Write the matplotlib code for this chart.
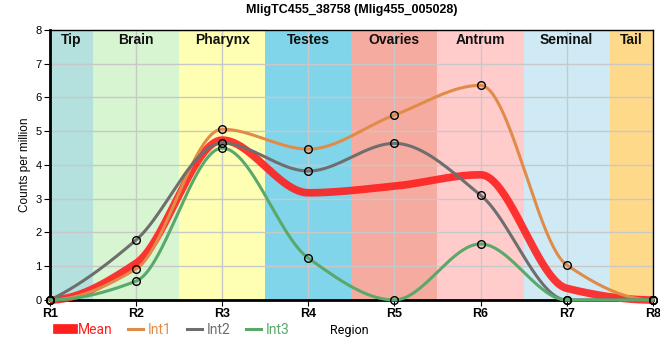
import matplotlib
matplotlib.use('Agg')

import numpy as np
import matplotlib.pyplot as plt
from matplotlib.lines import Line2D

# data
positions = ['R1', 'R2', 'R3', 'R4', 'R5', 'R6', 'R7', 'R8']
int1 = [0.0, 0.92, 5.06, 4.47, 5.48, 6.36, 1.04, 0.0]
int2 = [0.0, 1.78, 4.65, 3.82, 4.64, 3.11, 0.0, 0.0]
int3 = [0.0, 0.56, 4.50, 1.24, 0.0, 1.66, 0.0, 0.0]

regions = ['Tip', 'Brain', 'Pharynx', 'Testes', 'Ovaries', 'Antrum', 'Seminal', 'Tail']
region_edges = [0, 0.5, 1.5, 2.5, 3.5, 4.5, 5.5, 6.5, 7]
region_colors = ['#b4e1dd', '#d7f5d0', '#ffffb4', '#80d5eb',
                 '#f5ab9f', '#ffcbcb', '#cfeaf5', '#fed98a']

series_colors = {'Mean': '#ff1f1f', 'Int1': '#e08c48', 'Int2': '#6e6e6e', 'Int3': '#5aa86a'}


def pchip(x, y, xs):
    """ monotone cubic through the points, only for drawing """
    x = np.asarray(x, float)
    y = np.asarray(y, float)
    h = np.diff(x)
    d = np.diff(y) / h
    n = len(x)
    m = np.zeros(n)
    for k in range(1, n - 1):
        if d[k - 1] * d[k] > 0:
            w1 = 2 * h[k] + h[k - 1]
            w2 = h[k] + 2 * h[k - 1]
            m[k] = (w1 + w2) / (w1 / d[k - 1] + w2 / d[k])
    for k, (a, b, hh0, hh1) in ((0, (d[0], d[1], h[0], h[1])), (n - 1, (d[-1], d[-2], h[-1], h[-2]))):
        v = ((2 * hh0 + hh1) * a - hh0 * b) / (hh0 + hh1)
        if np.sign(v) != np.sign(a):
            v = 0.0
        elif np.sign(a) != np.sign(b) and abs(v) > abs(3 * a):
            v = 3 * a
        m[k] = v
    idx = np.clip(np.searchsorted(x, xs) - 1, 0, n - 2)
    t = (xs - x[idx]) / h[idx]
    h00 = 2 * t**3 - 3 * t**2 + 1
    h10 = t**3 - 2 * t**2 + t
    h01 = -2 * t**3 + 3 * t**2
    h11 = t**3 - t**2
    return h00 * y[idx] + h10 * h[idx] * m[idx] + h01 * y[idx + 1] + h11 * h[idx] * m[idx + 1]


def main():
    xpos = np.arange(len(positions))
    mean = np.mean([int1, int2, int3], axis=0)
    xs = np.linspace(0, len(positions) - 1, 700)

    fig = plt.figure(figsize=(6.6, 3.6), dpi=100)
    ax = fig.add_axes([0.0758, 0.1667, 0.9132, 0.75])

    for i, name in enumerate(regions):
        ax.axvspan(region_edges[i], region_edges[i + 1], color=region_colors[i], lw=0, zorder=0.1)
        ax.text((region_edges[i] + region_edges[i + 1]) / 2, 7.92, name, ha='center', va='top',
                fontsize=10, fontweight='bold', family='Liberation Sans', color='#111111', zorder=5)

    ax.grid(True, color='#c8c8c8', lw=1)
    ax.set_axisbelow(True)

    ax.plot(xs, pchip(xpos, mean, xs), color=series_colors['Mean'], lw=5.5, alpha=0.9,
            solid_capstyle='butt', zorder=3, clip_on=False)
    for name, vals in (('Int1', int1), ('Int2', int2), ('Int3', int3)):
        ax.plot(xs, pchip(xpos, vals, xs), color=series_colors[name], lw=2.2, zorder=4, clip_on=False)
    for vals in (int1, int2, int3):
        ax.plot(xpos, vals, 'o', ms=5.5, mfc='none', mec='black', mew=1, zorder=6, clip_on=False)

    ax.set_xlim(0, 7)
    ax.set_ylim(0, 8)
    ax.set_xticks(xpos)
    ax.set_xticklabels(positions, fontweight='bold', fontsize=9, family='Liberation Sans')
    ax.set_yticks(range(0, 9))
    ax.tick_params(axis='y', labelsize=8, length=4, pad=2)
    ax.tick_params(axis='x', length=4, pad=2)
    for lab in ax.get_yticklabels():
        lab.set_family('Liberation Sans')

    ax.spines['left'].set_linewidth(2)
    ax.spines['bottom'].set_linewidth(2)
    ax.spines['right'].set_linewidth(1)
    ax.spines['top'].set_linewidth(1)

    ax.set_ylabel('Counts per million', fontsize=8.5, family='Liberation Sans', labelpad=3)
    ax.set_title('MligTC455_38758 (Mlig455_005028)', fontsize=9, fontweight='bold',
                 family='Liberation Sans', pad=12)
    fig.text(0.53, 0.083, 'Region', fontsize=9, family='Roboto', ha='center', va='center')

    handles = [Line2D([], [], color=series_colors['Mean'], lw=7),
               Line2D([], [], color=series_colors['Int1'], lw=2.2),
               Line2D([], [], color=series_colors['Int2'], lw=2.2),
               Line2D([], [], color=series_colors['Int3'], lw=2.2)]
    labels = ['Mean', 'Int1', 'Int2', 'Int3']
    fig.legend(handles, labels, loc='center left', bbox_to_anchor=(0.083, 0.083), ncol=4,
               frameon=False, handlelength=1.1, handletextpad=0.35, columnspacing=1.1,
               borderaxespad=0, borderpad=0.2,
               labelcolor=[series_colors[k] for k in labels], prop={'family': 'Roboto', 'size': 10})

    fig.savefig('out.png', dpi=100)
    plt.close(fig)


if __name__ == '__main__':
    main()
